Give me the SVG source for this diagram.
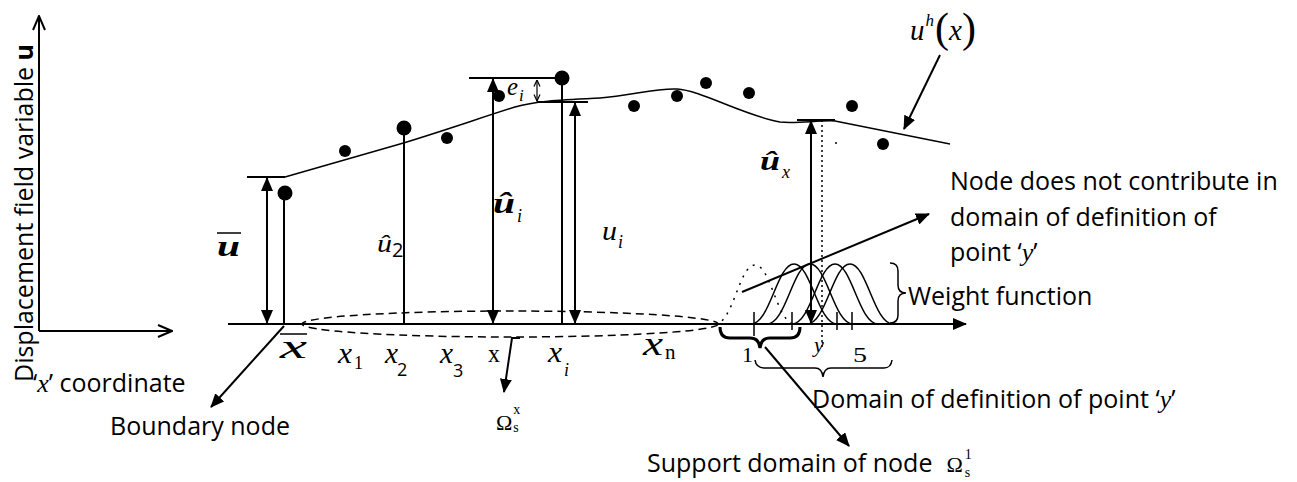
<svg xmlns="http://www.w3.org/2000/svg" width="1297" height="482" viewBox="0 0 1297 482">
<style>
.ln{stroke:#000;stroke-width:2;fill:none}
.thin{stroke:#000;stroke-width:1.5;fill:none}
.t{font-family:"Open Sans","Noto Sans",sans-serif;font-size:25px;fill:#000}
.mi{font-family:"Liberation Serif",serif;font-style:italic;fill:#000}
.mr{font-family:"Liberation Serif",serif;font-style:normal;fill:#000}
.mb{font-family:"Liberation Serif",serif;font-style:italic;font-weight:bold;fill:#000}
.ms{font-family:"Open Sans",sans-serif;fill:#000}
.dot{fill:#000}
</style>
<defs>
<marker id="ah" viewBox="0 0 14 12" refX="13" refY="6" markerWidth="14" markerHeight="12" markerUnits="userSpaceOnUse" orient="auto-start-reverse">
<path d="M0,0 L14,6 L0,12 z" fill="#000"/>
</marker>
<marker id="oh" viewBox="0 0 16 14" refX="15" refY="7" markerWidth="16" markerHeight="14" markerUnits="userSpaceOnUse" orient="auto-start-reverse">
<path d="M1,1 L15,7 L1,13" fill="none" stroke="#000" stroke-width="2"/>
</marker>
<marker id="sh" viewBox="0 0 8 8" refX="7.5" refY="4" markerWidth="8" markerHeight="8" markerUnits="userSpaceOnUse" orient="auto-start-reverse">
<path d="M1,1 L7.5,4 L1,7" fill="none" stroke="#000" stroke-width="1.2"/>
</marker>
</defs>
<rect width="1297" height="482" fill="#fff"/>

<!-- left reference axes -->
<g id="axes">
<line class="ln" x1="39" y1="331" x2="39" y2="16" marker-end="url(#oh)"/>
<line class="ln" x1="39" y1="331" x2="172" y2="331" marker-end="url(#oh)"/>
<text class="t" transform="translate(33,382) rotate(-90)">Displacement field variable <tspan font-weight="bold">u</tspan></text>
<text class="t" x="33" y="392">‘<tspan class="mi" font-size="26">x</tspan>’ coordinate</text>
</g>

<!-- main axis and support ellipse -->
<g id="main-axis">
<line class="ln" x1="228" y1="324" x2="966" y2="324" marker-end="url(#ah)"/>
<ellipse cx="510" cy="324" rx="208" ry="13" fill="none" stroke="#000" stroke-width="1.5" stroke-dasharray="8 5"/>
</g>

<g id="curve">
<path class="thin" d="M285,177 L400,144 C440,132 480,118 515,107 C535,101 560,100 600,98 C630,96 655,88 677,89 C700,90 745,116 780,122 C795,124 820,120 835,121 L950,144"/>
</g>

<g id="nodes">
<line class="ln" x1="284" y1="193" x2="284" y2="324"/>
<line class="ln" x1="404" y1="128" x2="404" y2="324"/>
<line class="ln" x1="562" y1="78" x2="562" y2="324"/>
<circle class="dot" cx="285" cy="193" r="7.5"/>
<circle class="dot" cx="345" cy="151" r="6"/>
<circle class="dot" cx="404" cy="128" r="7.5"/>
<circle class="dot" cx="447" cy="138" r="6"/>
<circle class="dot" cx="499" cy="96" r="6"/>
<circle class="dot" cx="562" cy="78" r="7.5"/>
<circle class="dot" cx="634" cy="106" r="6"/>
<circle class="dot" cx="677" cy="96" r="6"/>
<circle class="dot" cx="706" cy="83" r="6"/>
<circle class="dot" cx="749" cy="93" r="6"/>
<circle class="dot" cx="852" cy="106" r="6"/>
<circle class="dot" cx="883" cy="144" r="6"/>
<circle class="dot" cx="836" cy="143" r="1"/>
</g>

<!-- level lines -->
<g id="levels">
<line class="ln" x1="247" y1="177" x2="285" y2="177"/>
<line class="ln" x1="469" y1="78" x2="560" y2="78"/>
<line class="ln" x1="537" y1="102" x2="588" y2="102"/>
<line class="ln" x1="797" y1="120" x2="835" y2="120"/>
<line x1="822" y1="120" x2="822" y2="350" stroke="#000" stroke-width="1.5" stroke-dasharray="2 3"/>
</g>

<!-- weight functions -->
<g id="weights">
<path d="M715,324 C733,324 739,265 755,265 C771,265 777,324 795,324" fill="none" stroke="#000" stroke-width="1.5" stroke-dasharray="2 6"/>
<path class="thin" d="M751,324 C770,324 777,264 794,264 C811,264 818,324 837,324"/>
<path class="thin" d="M767,324 C786,324 793,264 810,264 C827,264 834,324 853,324"/>
<path class="thin" d="M792,324 C811,324 818,264 835,264 C852,264 859,324 878,324"/>
<path class="thin" d="M807,324 C826,324 833,264 850,264 C867,264 874,324 893,324"/>
<line class="thin" x1="754" y1="312" x2="754" y2="336"/>
<line class="thin" x1="792" y1="312" x2="792" y2="330"/>
<line class="thin" x1="837" y1="312" x2="837" y2="330"/>
<line class="thin" x1="852" y1="312" x2="852" y2="330"/>
<path d="M720,327 Q720,338 730,338 L750,338 Q759,338 760,348 Q761,338 770,338 L790,338 Q800,338 800,327" fill="none" stroke="#000" stroke-width="3"/>
<path class="thin" d="M755,360 Q756,368 765,368 L815,368 Q822,368 823,377 Q824,368 831,368 L884,368 Q891,368 892,360"/>
<path class="thin" d="M890,263 Q898,263 898,271 L898,285 Q898,293 906,293 Q898,293 898,301 L898,315 Q898,323 890,323"/>
<text class="mr" x="742" y="362" font-size="22">1</text>
<text class="mi" x="814" y="352" font-size="22">y</text>
<text class="mr" x="853" y="362" font-size="22" textLength="14" lengthAdjust="spacingAndGlyphs">5</text>
</g>

<!-- connectors / arrows -->
<g id="connectors">
<line class="ln" x1="267" y1="178" x2="267" y2="323" marker-start="url(#ah)" marker-end="url(#ah)"/>
<line class="ln" x1="493" y1="79" x2="493" y2="323" marker-start="url(#ah)" marker-end="url(#ah)"/>
<line class="ln" x1="575" y1="103" x2="575" y2="323" marker-start="url(#ah)" marker-end="url(#ah)"/>
<line class="ln" x1="811" y1="121" x2="811" y2="323" marker-start="url(#ah)" marker-end="url(#ah)"/>
<line x1="537" y1="80" x2="537" y2="101" stroke="#000" stroke-width="1.2" marker-start="url(#sh)" marker-end="url(#sh)"/>
<line class="ln" x1="284" y1="326" x2="211" y2="407" marker-end="url(#ah)"/>
<line class="ln" x1="940" y1="55" x2="904" y2="129" marker-end="url(#ah)"/>
<line class="ln" x1="742" y1="292" x2="929" y2="214" marker-end="url(#ah)"/>
<path class="ln" d="M520,338 L512,338 L504,392" marker-end="url(#ah)"/>
<line class="ln" x1="765" y1="347" x2="849" y2="446" marker-end="url(#ah)"/>
</g>

<!-- math labels -->
<g id="labels">
<text class="mb" x="217" y="256" font-size="30" textLength="23" lengthAdjust="spacingAndGlyphs">u</text>
<line x1="217" y1="233" x2="241" y2="233" stroke="#000" stroke-width="1.5"/>
<text class="mi" x="280" y="358" font-size="33" textLength="27" lengthAdjust="spacingAndGlyphs">x</text>
<line x1="280" y1="334" x2="307" y2="334" stroke="#000" stroke-width="1.5"/>
<text class="mi" x="377" y="252" font-size="26" textLength="15" lengthAdjust="spacingAndGlyphs">û</text>
<text class="ms" x="392" y="257" font-size="20">2</text>
<text class="mb" x="493" y="213" font-size="30" textLength="22" lengthAdjust="spacingAndGlyphs">û</text>
<text class="mi" x="517" y="222" font-size="18">i</text>
<text class="mi" x="602" y="240" font-size="28" textLength="15" lengthAdjust="spacingAndGlyphs">u</text>
<text class="mi" x="618" y="248" font-size="18">i</text>
<text class="mi" x="507" y="95" font-size="26" textLength="11" lengthAdjust="spacingAndGlyphs">e</text>
<text class="mi" x="519" y="101" font-size="17">i</text>
<text class="mb" x="760" y="170" font-size="27" textLength="20" lengthAdjust="spacingAndGlyphs">û</text>
<text class="mi" x="782" y="178" font-size="18">x</text>
<text class="mi" x="910" y="40" font-size="29">u<tspan font-size="17" dx="1" dy="-14">h</tspan><tspan class="mr" font-size="42" dx="1" dy="16">(</tspan><tspan font-size="29" dy="-2">x</tspan><tspan class="mr" font-size="42" dy="2">)</tspan></text>
<text class="mi" x="338" y="363" font-size="30" textLength="14" lengthAdjust="spacingAndGlyphs">x</text>
<text class="mr" x="354" y="369" font-size="18">1</text>
<text class="mi" x="385" y="363" font-size="30" textLength="13" lengthAdjust="spacingAndGlyphs">x</text>
<text class="ms" x="397" y="376" font-size="18">2</text>
<text class="mi" x="440" y="363" font-size="30" textLength="13" lengthAdjust="spacingAndGlyphs">x</text>
<text class="ms" x="453" y="377" font-size="18">3</text>
<text class="mr" x="488" y="362" font-size="26" textLength="12" lengthAdjust="spacingAndGlyphs">x</text>
<text class="mi" x="548" y="362" font-size="30" textLength="14" lengthAdjust="spacingAndGlyphs">x</text>
<text class="mi" x="564" y="376" font-size="18">i</text>
<text class="mi" x="643" y="355" font-size="33" textLength="20" lengthAdjust="spacingAndGlyphs">x</text>
<text class="mr" x="665" y="359" font-size="21">n</text>
<text class="mr" x="496" y="430" font-size="22">Ω<tspan font-size="14" dx="1" dy="-16">x</tspan><tspan font-size="14" dx="-7" dy="18">s</tspan></text>
</g>

<!-- text annotations -->
<g id="annotations">
<text class="t" x="110" y="435">Boundary node</text>
<text class="t" x="950" y="190">Node does not contribute in</text>
<text class="t" x="950" y="226">domain of definition of</text>
<text class="t" x="950" y="261">point ‘<tspan class="mi" font-size="26">y</tspan>’</text>
<text class="t" x="908" y="305">Weight function</text>
<text class="t" x="812" y="408">Domain of definition of point ‘<tspan class="mi" font-size="26">y</tspan>’</text>
<text class="t" x="647" y="472">Support domain of node<tspan class="mr" font-size="22" dx="14">Ω</tspan><tspan class="mr" font-size="14" dx="2" dy="-13">1</tspan><tspan class="mr" font-size="14" dx="-7" dy="18">s</tspan></text>
</g>
</svg>
